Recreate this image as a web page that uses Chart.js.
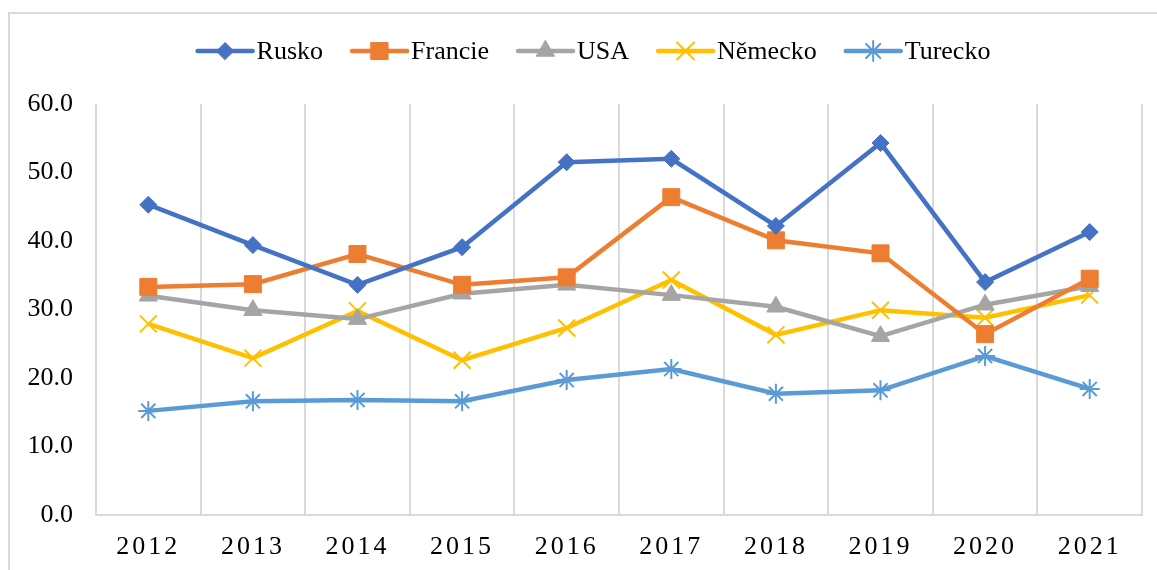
<!DOCTYPE html>
<html>
<head>
<meta charset="utf-8">
<script src="https://cdn.jsdelivr.net/npm/chart.js@4/dist/chart.umd.min.js"></script>
<style>
  html, body { margin: 0; padding: 0; background: #fff; }
  #wrap { position: relative; width: 1157px; height: 570px; }
</style>
</head>
<body>
<div id="wrap"><canvas id="chart" width="1157" height="570"></canvas></div>
<script>
;(() => {
  // --- Data ---
  const years = ['2012', '2013', '2014', '2015', '2016', '2017', '2018', '2019', '2020', '2021']
  const yTicks = [0, 10, 20, 30, 40, 50, 60]

  const rusko = [45.3, 39.4, 33.6, 39.1, 51.5, 52.0, 42.2, 54.3, 34.0, 41.3]
  const francie = [33.3, 33.7, 38.1, 33.6, 34.7, 46.4, 40.1, 38.2, 26.4, 34.5]
  const usa = [32.0, 29.9, 28.6, 32.3, 33.6, 32.1, 30.4, 26.1, 30.7, 33.4]
  const nemecko = [27.9, 22.9, 29.8, 22.6, 27.3, 34.3, 26.3, 29.9, 28.8, 32.1]
  const turecko = [15.2, 16.6, 16.8, 16.6, 19.7, 21.3, 17.7, 18.2, 23.2, 18.4]

  const FONT = '"Liberation Serif", "Times New Roman", serif'
  const GRID = '#d9d9d9'

  const series = (label, data, color, style, radius, bw) => ({
    label,
    data,
    borderColor: color,
    backgroundColor: color,
    pointBackgroundColor: color,
    pointBorderColor: color,
    pointStyle: style,
    pointRadius: radius,
    pointHoverRadius: radius,
    pointBorderWidth: bw,
    borderWidth: 4.5,
    tension: 0,
  })

  const datasets = [
    series('Rusko', rusko, '#4472C4', 'rectRot', 8.5, 1),
    series('Francie', francie, '#ED7D31', 'rect', 12, 1),
    series('USA', usa, '#A5A5A5', 'triangle', 10.5, 1),
    series('Německo', nemecko, '#FFC000', 'crossRot', 12, 2),
    series('Turecko', turecko, '#5B9BD5', 'star', 10, 2),
  ]

  // --- Frame + legend (line with marker, like the office chart) ---
  const framePlugin = {
    id: 'frame',
    beforeDraw: (c) => {
      const x = c.ctx
      x.save()
      x.fillStyle = '#fff'
      x.fillRect(0, 0, c.width, c.height)
      x.strokeStyle = GRID
      x.lineWidth = 2
      x.beginPath()
      x.moveTo(9, c.height)
      x.lineTo(9, 13)
      x.lineTo(c.width, 13)
      x.stroke()
      x.restore()
    },
  }

  const legendPlugin = {
    id: 'lineLegend',
    afterDraw: (c) => {
      const x = c.ctx
      const lineLen = 55
      const gapText = 4
      const gapItem = 29
      const cy = 51
      x.save()
      x.font = `26px ${FONT}`
      x.textBaseline = 'middle'
      const widths = c.data.datasets.map((d) => x.measureText(d.label).width)
      const total =
        widths.reduce((a, b) => a + b, 0) +
        c.data.datasets.length * (lineLen + gapText) +
        (c.data.datasets.length - 1) * gapItem
      let px = 594 - total / 2
      c.data.datasets.forEach((d, i) => {
        x.strokeStyle = d.borderColor
        x.lineWidth = d.borderWidth
        x.lineCap = 'round'
        x.beginPath()
        x.moveTo(px, cy)
        x.lineTo(px + lineLen, cy)
        x.stroke()
        x.fillStyle = d.pointBackgroundColor
        x.strokeStyle = d.pointBorderColor
        x.lineWidth = d.pointBorderWidth
        Chart.helpers.drawPoint(x, { pointStyle: d.pointStyle, radius: d.pointRadius, rotation: 0, borderWidth: d.pointBorderWidth }, px + lineLen / 2, cy)
        x.fillStyle = '#000'
        x.fillText(d.label, px + lineLen + gapText, cy + 1)
        px += lineLen + gapText + widths[i] + gapItem
      })
      x.restore()
    },
  }

  // x labels in the reference are letter-spaced
  const spacingPlugin = {
    id: 'xSpacing',
    afterLayout: (c) => {
      const s = c.scales.x
      if (s && !s._spaced) {
        const orig = s.drawLabels.bind(s)
        s.drawLabels = (ca) => {
          c.ctx.save()
          c.ctx.letterSpacing = '3px'
          orig(ca)
          c.ctx.restore()
        }
        s._spaced = true
      }
    },
  }

  new Chart(document.getElementById('chart'), {
    type: 'line',
    data: { labels: years, datasets },
    plugins: [framePlugin, spacingPlugin, legendPlugin],
    options: {
      responsive: false,
      animation: false,
      layout: { padding: { top: 104, right: 15, bottom: 0, left: 0 } },
      plugins: { legend: { display: false }, tooltip: { enabled: false } },
      scales: {
        x: {
          offset: true,
          grid: { display: true, offset: true, color: GRID, lineWidth: 2, drawTicks: false },
          border: { display: true, color: GRID, width: 2 },
          ticks: { color: '#000', font: { family: FONT, size: 26 }, padding: 17, maxRotation: 0 },
          afterFit: (s) => { s.height = 55 },
        },
        y: {
          min: yTicks[0],
          max: yTicks[yTicks.length - 1],
          afterBuildTicks: (s) => { s.ticks = yTicks.map((v) => ({ value: v })) },
          grid: { display: false, drawTicks: false },
          border: { display: false },
          ticks: {
            color: '#000',
            font: { family: FONT, size: 26 },
            padding: 23,
            callback: (v) => Number(v).toFixed(1),
          },
          afterFit: (s) => { s.width = 96 },
        },
      },
    },
  })
})()
</script>
</body>
</html>
